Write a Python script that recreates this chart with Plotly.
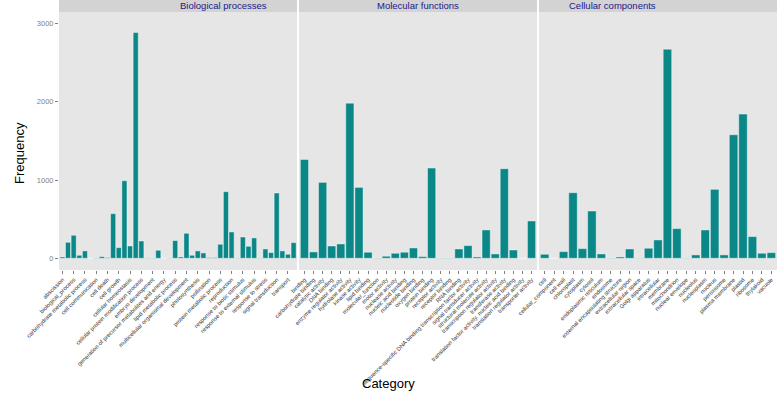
import plotly.graph_objects as go

BP = ["abscission", "anatomical structure morphogenesis", "biological_process", "biosynthetic process",
      "carbohydrate metabolic process", "catabolic process", "cell communication", "cell cycle",
      "cell death", "cell differentiation", "cell growth", "cellular component organization",
      "cellular homeostasis", "cellular process", "cellular protein modification process",
      "DNA metabolic process", "embryo development", "flower development",
      "generation of precursor metabolites and energy", "growth", "lipid metabolic process",
      "metabolic process", "multicellular organismal development",
      "nucleobase-containing compound metabolic process", "photosynthesis",
      "pollen-pistil interaction", "pollination", "post-embryonic development",
      "protein metabolic process", "regulation of gene expression, epigenetic", "reproduction",
      "response to abiotic stimulus", "response to biotic stimulus", "response to endogenous stimulus",
      "response to external stimulus", "response to extracellular stimulus", "response to stress",
      "secondary metabolic process", "signal transduction", "translation", "transport", "tropism"]
BP_VALS = [17, 204, 294, 38, 94, 0, 4, 21, 9, 570, 136, 991, 157, 2885, 221, 5, 4, 102, 0, 4,
           226, 17, 319, 38, 94, 68, 9, 9, 179, 851, 336, 4, 272, 153, 260, 4, 119, 72, 834, 94, 51, 200]

MF = ["binding", "carbohydrate binding", "catalytic activity", "DNA binding", "enzyme regulator activity",
      "hydrolase activity", "kinase activity", "lipid binding", "molecular_function", "motor activity",
      "nuclease activity", "nucleic acid binding", "nucleotide binding", "oxygen binding", "protein binding",
      "receptor activity", "receptor binding", "RNA binding",
      "sequence-specific DNA binding transcription factor activity", "signal transducer activity",
      "structural molecule activity", "transcription regulator activity", "transferase activity",
      "translation factor activity, nucleic acid binding", "translation regulator activity",
      "transporter activity"]
MF_VALS = [1264, 81, 970, 157, 183, 1983, 906, 77, 4, 26, 64, 77, 132, 21, 1153, 4, 4, 119, 162, 17,
           362, 55, 1145, 106, 0, 477]

CC = ["cell", "cellular_component", "cell wall", "chloroplast", "cytoplasm", "cytosol",
      "endoplasmic reticulum", "endosome", "external encapsulating structure", "extracellular region",
      "extracellular space", "Golgi apparatus", "intracellular", "membrane", "mitochondrion",
      "nuclear envelope", "nucleolus", "nucleoplasm", "nucleus", "peroxisome", "plasma membrane",
      "plastid", "ribosome", "thylakoid", "vacuole"]
CC_VALS = [51, 0, 85, 838, 123, 604, 55, 4, 17, 119, 4, 128, 234, 2673, 379, 4, 43, 362, 881, 43,
           1579, 1843, 277, 64, 72]

PANELS = ["Biological processes", "Molecular functions", "Cellular components"]

W, H = 778, 396
ML, MR, MT, MB = 59, 1, 12, 126
PW = W - ML - MR
PH = H - MT - MB
domains = [[0, 238 / PW], [240 / PW, 478 / PW], [480 / PW, 1.0]]

BAR = "#0B8787"
fig = go.Figure()
data = [(BP, BP_VALS), (MF, MF_VALS), (CC, CC_VALS)]
for i, (cats, vals) in enumerate(data):
    sfx = "" if i == 0 else str(i + 1)
    fig.add_trace(go.Bar(x=cats, y=vals, xaxis="x" + sfx, yaxis="y" + sfx,
                         marker=dict(color=BAR, line=dict(color="rgba(255,255,255,0.7)", width=0.6)),
                         width=0.9, showlegend=False, hoverinfo="skip"))
    n = len(cats)
    fig.layout["xaxis" + sfx] = dict(
        domain=domains[i], anchor="y" + sfx, type="category", range=[-0.6, n - 0.4],
        tickangle=-45, tickfont=dict(size=5.8, color="#3a3a3a", family="Liberation Sans, Arial"),
        ticks="outside", ticklen=3, tickcolor="#7f7f7f", tickwidth=0.8,
        showgrid=False, zeroline=False, showline=False, automargin=False,
        categoryorder="array", categoryarray=cats)
    ydict = dict(domain=[0, 1], anchor="x" + sfx, range=[-150, 3148], showgrid=False,
                 zeroline=False, showline=False, automargin=False)
    if i == 0:
        ydict.update(tickvals=[0, 1000, 2000, 3000], ticks="outside", ticklen=3,
                     tickcolor="#7f7f7f", tickwidth=0.8,
                     tickfont=dict(size=7.5, color="#7f7f7f", family="Liberation Sans, Arial"))
    else:
        ydict.update(matches="y", showticklabels=False, ticks="")
    fig.layout["yaxis" + sfx] = ydict

    # strip
    fig.add_shape(type="rect", xref="paper", yref="paper", x0=domains[i][0], x1=domains[i][1],
                  y0=1.0, y1=1 + (MT + 1) / PH, fillcolor="#D3D3D3", line=dict(width=0), layer="below")
    fig.add_annotation(xref="paper", yref="paper", x=(domains[i][0] + domains[i][1]) / 2,
                       y=1 + 6 / PH, text=PANELS[i], showarrow=False, yanchor="middle",
                       font=dict(size=9.5, color="#1A1A8A", family="Liberation Sans, Arial"))

fig.add_annotation(xref="paper", yref="paper", x=-40 / PW, y=(PH - 141) / PH, text="Frequency",
                   textangle=-90, showarrow=False, xanchor="center", yanchor="middle",
                   font=dict(size=13, color="black", family="Liberation Sans, Arial"))
fig.add_annotation(xref="paper", yref="paper", x=(388 - ML) / PW, y=-(383 - MT - PH) / PH,
                   text="Category", showarrow=False, xanchor="center", yanchor="middle",
                   font=dict(size=13, color="black", family="Liberation Sans, Arial"))

fig.update_layout(width=W, height=H, margin=dict(l=ML, r=MR, t=MT, b=MB, pad=0),
                  paper_bgcolor="white", plot_bgcolor="#E6E6E6", bargap=0.1, hovermode=False)
fig.write_html("out.html", config={"displayModeBar": False},
               post_script="document.body.style.margin='0';document.body.style.overflow='hidden';")
